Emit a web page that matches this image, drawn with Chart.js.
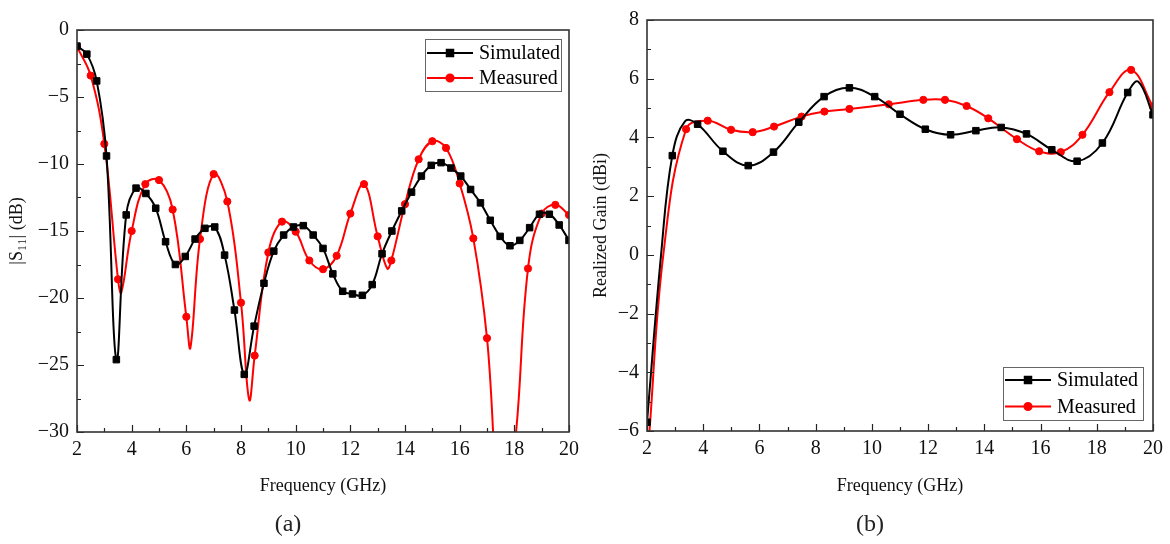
<!DOCTYPE html>
<html><head><meta charset="utf-8">
<script src="https://cdn.jsdelivr.net/npm/chart.js@4/dist/chart.umd.min.js"></script>
<style>
html,body{margin:0;padding:0;background:#fff;}
#wrap{position:relative;width:1170px;height:544px;overflow:hidden;background:#fff;}
.c{position:absolute;top:0;width:585px;height:544px;}
.cap{position:absolute;top:507px;line-height:32px;font-family:"Liberation Serif",serif;font-size:24px;color:#222;transform:translateX(-50%);white-space:nowrap;}
</style></head><body>
<div id="wrap">
<div class="c" style="left:0"><canvas id="ca" width="585" height="544"></canvas></div>
<div class="c" style="left:585px"><canvas id="cb" width="585" height="544"></canvas></div>
<div class="cap" style="left:288px">(a)</div>
<div class="cap" style="left:870px">(b)</div>
</div>
<script>
// ---------- (a) |S11| ----------
const s11SimFreq = [2.00,2.36,2.72,3.08,3.44,3.80,4.16,4.52,4.88,5.24,5.60,5.96,6.32,6.68,7.04,7.40,7.76,8.12,8.48,8.84,9.20,9.56,9.92,10.28,10.64,11.00,11.36,11.72,12.08,12.44,12.80,13.16,13.52,13.88,14.24,14.60,14.96,15.32,15.68,16.04,16.40,16.76,17.12,17.48,17.84,18.20,18.56,18.92,19.28,19.64,20.00];
const s11Sim = [-1.2,-1.8,-3.8,-9.4,-24.6,-13.8,-11.8,-12.2,-13.3,-15.8,-17.5,-16.9,-15.6,-14.8,-14.7,-16.8,-20.9,-25.7,-22.1,-18.9,-16.5,-15.3,-14.7,-14.6,-15.3,-16.3,-18.2,-19.5,-19.7,-19.8,-19.0,-16.7,-15.0,-13.5,-12.1,-10.9,-10.1,-9.9,-10.3,-10.9,-11.9,-12.9,-14.2,-15.4,-16.1,-15.7,-14.75,-13.75,-13.75,-14.55,-15.7];
const s11MeasFreq = [2.0,2.5,3.0,3.5,4.0,4.5,5.0,5.5,6.0,6.5,7.0,7.5,8.0,8.5,9.0,9.5,10.0,10.5,11.0,11.5,12.0,12.5,13.0,13.5,14.0,14.5,15.0,15.5,16.0,16.5,17.0,17.5,18.0,18.5,19.0,19.5,20.0];
const s11Meas = [-1.25,-3.4,-8.5,-18.6,-15.0,-11.5,-11.2,-13.4,-21.4,-15.6,-10.75,-12.8,-20.35,-24.3,-16.6,-14.3,-15.05,-17.2,-17.85,-16.85,-13.7,-11.5,-15.4,-17.2,-13.0,-9.65,-8.3,-8.8,-11.45,-15.55,-23.0,-36.0,-31.3,-17.8,-13.7,-13.05,-13.8];
// unmarked curve extrema
const s11MeasCurveFreq = [3.62,6.15,8.30,13.35];
const s11MeasCurve = [-19.6,-23.7,-27.6,-17.8];

// ---------- (b) Realized gain ----------
const gainSimFreq = [2.0,2.9,3.8,4.7,5.6,6.5,7.4,8.3,9.2,10.1,11.0,11.9,12.8,13.7,14.6,15.5,16.4,17.3,18.2,19.1,20.0];
const gainSim = [-5.7,3.38,4.45,3.53,3.04,3.5,4.52,5.39,5.69,5.39,4.79,4.28,4.09,4.23,4.34,4.12,3.58,3.19,3.81,5.53,4.77];
const gainSimCurveFreq = [2.5,3.35,19.48];
const gainSimCurve = [0.0,4.55,5.9];
const gainMeasFreq = [3.39,4.16,4.99,5.76,6.52,7.50,8.31,9.20,10.60,11.83,12.60,13.37,14.14,15.16,15.95,16.72,17.49,18.45,19.22,20.0];
const gainMeas = [4.28,4.57,4.26,4.18,4.37,4.71,4.88,4.97,5.13,5.28,5.28,5.07,4.65,3.94,3.53,3.5,4.09,5.54,6.3,5.05];
const gainMeasCurveFreq = [2.08,2.58];
const gainMeasCurve = [-6.1,0.0];

const xTicks = [2,4,6,8,10,12,14,16,18,20];
const seriesNames = ['Simulated','Measured'];

// ---------- helpers ----------
function series(fx, fy, cx, cy) {
  const pts = fx.map((x, i) => ({x: x, y: fy[i], m: true}));
  (cx || []).forEach((x, i) => pts.push({x: x, y: cy[i], m: false}));
  return pts.sort((a, b) => a.x - b.x);
}
const FONT = '"Liberation Serif", "Times New Roman", serif';
const minusFmt = v => (v < 0 ? '\u2212' + Math.abs(v) : String(v));

const frameTicks = {
  id: 'frameTicks',
  afterDatasetsDraw(chart) {
    const {ctx, chartArea: a} = chart;
    const xs = chart.scales.x, ys = chart.scales.y;
    ctx.save();
    ctx.strokeStyle = '#222';
    ctx.lineWidth = 1.2;
    const xv = xs.ticks.map(t => t.value);
    const yv = ys.ticks.map(t => t.value);
    ctx.beginPath();
    xv.forEach((v, i) => {
      const p = Math.round(xs.getPixelForValue(v)) + 0.5;
      ctx.moveTo(p, a.bottom); ctx.lineTo(p, a.bottom - 7);
      if (i < xv.length - 1) {
        const q = Math.round(xs.getPixelForValue((v + xv[i + 1]) / 2)) + 0.5;
        ctx.moveTo(q, a.bottom); ctx.lineTo(q, a.bottom - 4);
      }
    });
    yv.forEach((v, i) => {
      const p = Math.round(ys.getPixelForValue(v)) + 0.5;
      ctx.moveTo(a.left, p); ctx.lineTo(a.left + 7, p);
      if (i < yv.length - 1) {
        const q = Math.round(ys.getPixelForValue((v + yv[i + 1]) / 2)) + 0.5;
        ctx.moveTo(a.left, q); ctx.lineTo(a.left + 4, q);
      }
    });
    ctx.stroke();
    ctx.lineWidth = 1.6;
    ctx.strokeStyle = '#333';
    ctx.strokeRect(a.left, a.top, a.right - a.left, a.bottom - a.top);
    ctx.restore();
  }
};

const boxLegend = {
  id: 'boxLegend',
  afterDatasetsDraw(chart, args, o) {
    if (!o || !o.width) return;
    const {ctx, chartArea: a} = chart;
    const x0 = a.right - o.right - o.width;
    const y0 = o.anchor === 'top' ? a.top + o.offset : a.bottom - o.offset - o.height;
    ctx.save();
    ctx.fillStyle = '#fff';
    ctx.fillRect(x0, y0, o.width, o.height);
    ctx.strokeStyle = '#666';
    ctx.lineWidth = 1;
    ctx.strokeRect(x0 + 0.5, y0 + 0.5, o.width, o.height);
    chart.data.datasets.forEach((ds, i) => {
      const cy = y0 + o.rowTop + i * o.rowGap;
      const lx = x0 + 2, lw = 46;
      ctx.strokeStyle = ds.borderColor;
      ctx.lineWidth = 2;
      ctx.beginPath(); ctx.moveTo(lx, cy); ctx.lineTo(lx + lw, cy); ctx.stroke();
      ctx.fillStyle = ds.borderColor;
      Chart.helpers.drawPoint(ctx, {pointStyle: ds.pointStyle, radius: ds.legendRadius, borderWidth: 1, rotation: 0}, lx + lw / 2, cy);
      ctx.fill();
      ctx.fillStyle = '#000';
      ctx.font = '20px ' + FONT;
      ctx.textBaseline = 'middle';
      ctx.textAlign = 'left';
      ctx.fillText(seriesNames[i], lx + lw + 6, cy + 1);
    });
    ctx.restore();
  }
};

function makeChart(id, cfg) {
  const ds = (data, color, style, r) => ({
    data: data, borderColor: color, backgroundColor: color,
    pointBackgroundColor: color, pointBorderColor: color, pointBorderWidth: 1,
    pointStyle: style, legendRadius: r,
    pointRadius: c => (c.raw && c.raw.m ? r : 0),
    pointHoverRadius: c => (c.raw && c.raw.m ? r : 0),
    borderWidth: 2, tension: 0.4, clip: 0, fill: false
  });
  return new Chart(document.getElementById(id), {
    type: 'line',
    data: {datasets: [
      ds(cfg.sim, '#000000', 'rect', 4.6),
      ds(cfg.meas, '#ff0000', 'circle', 3.6)
    ]},
    options: {
      responsive: false, animation: false, devicePixelRatio: 1,
      layout: {padding: {top: cfg.top, right: cfg.right, left: 0, bottom: 0}},
      plugins: {legend: {display: false}, tooltip: {enabled: false}, boxLegend: cfg.legend},
      scales: {
        x: {
          type: 'linear', min: 2, max: 20,
          afterBuildTicks: s => { s.ticks = xTicks.map(v => ({value: v})); },
          ticks: {font: {family: FONT, size: 20}, color: '#111', padding: 6, maxRotation: 0, autoSkip: false},
          grid: {display: false, drawTicks: false},
          border: {display: false},
          title: {display: true, text: 'Frequency (GHz)', color: '#111', font: {family: FONT, size: 18}, padding: {top: 0, bottom: 47}},
          afterFit: s => { s.height = cfg.xh; }
        },
        y: {
          type: 'linear', min: cfg.ymin, max: cfg.ymax,
          afterBuildTicks: s => { s.ticks = cfg.yTicks.map(v => ({value: v})); },
          ticks: {font: {family: FONT, size: 20}, color: '#111', padding: 8, callback: minusFmt},
          grid: {display: false, drawTicks: false},
          border: {display: false},
          title: {display: true, text: cfg.ytitle, color: '#111', font: {family: FONT, size: 18}, padding: {top: cfg.ytp, bottom: 0}},
          afterFit: s => { s.width = cfg.yw; }
        }
      }
    },
    plugins: [frameTicks, boxLegend]
  });
}

const s11YTicks = [-30,-25,-20,-15,-10,-5,0];
const gainYTicks = [-6,-4,-2,0,2,4,6,8];

makeChart('ca', {
  sim: series(s11SimFreq, s11Sim),
  meas: series(s11MeasFreq, s11Meas, s11MeasCurveFreq, s11MeasCurve),
  top: 30, right: 16, xh: 112, yw: 77, ytp: 6,
  ymin: -30, ymax: 0, yTicks: s11YTicks,
  ytitle: '|S\u2081\u2081| (dB)',
  legend: {width: 136, height: 52, right: 8, anchor: 'top', offset: 9, rowTop: 14, rowGap: 25}
});
makeChart('cb', {
  sim: series(gainSimFreq, gainSim, gainSimCurveFreq, gainSimCurve),
  meas: series(gainMeasFreq, gainMeas, gainMeasCurveFreq, gainMeasCurve),
  top: 18, right: 17, xh: 113, yw: 62, ytp: 5,
  ymin: -6, ymax: 8, yTicks: gainYTicks,
  ytitle: 'Realized Gain (dBi)',
  legend: {width: 140, height: 53, right: 10, anchor: 'bottom', offset: 11, rowTop: 13, rowGap: 26.5}
});
</script>
</body></html>
